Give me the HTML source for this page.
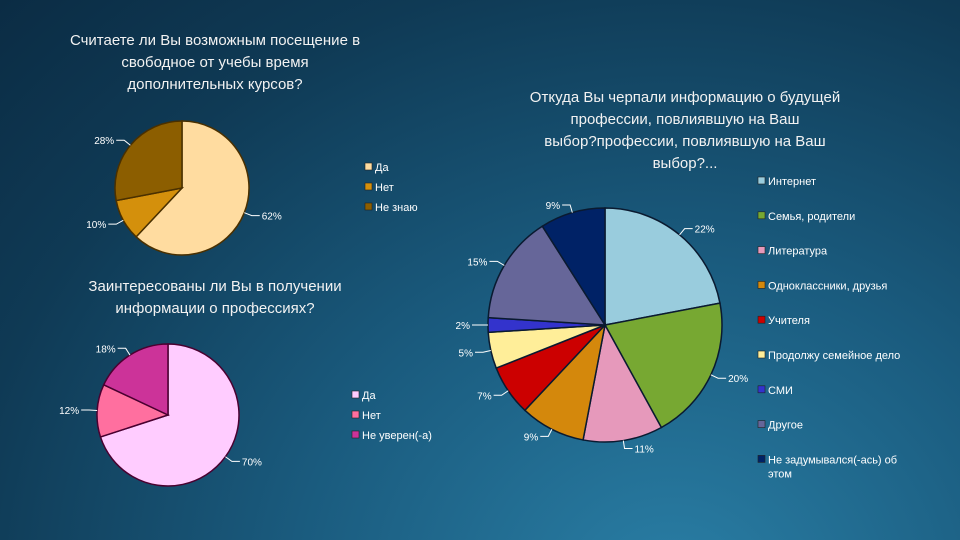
<!DOCTYPE html>
<html><head><meta charset="utf-8">
<style>
html,body{margin:0;padding:0;}
body{width:960px;height:540px;overflow:hidden;background:radial-gradient(ellipse at 70% 110%,#2a7fa6 0%,#1a5b7e 40%,#0f3a55 75%,#0b2c44 100%);font-family:"Liberation Sans","Noto Sans CJK SC",sans-serif;color:#fff;position:relative;}
.t{position:absolute;text-align:center;font-size:15px;line-height:22px;color:#f2f2f2;white-space:nowrap;}
</style></head>
<body>
<div class="t" style="left:15px;top:30px;width:400px;">Считаете ли Вы возможным посещение в<br>свободное от учебы время<br>дополнительных курсов?</div>
<div class="t" style="left:15px;top:276px;width:400px;">Заинтересованы ли Вы в получении<br>информации о профессиях?</div>
<div class="t" style="left:485px;top:87px;width:400px;">Откуда Вы черпали информацию о будущей<br>профессии, повлиявшую на Ваш<br>выбор?профессии, повлиявшую на Ваш<br>выбор?...</div>
<svg id="svg" width="960" height="540" style="position:absolute;left:0;top:0"></svg>
<script>
const c1Labels=["Да","Нет","Не знаю"];
const c1Values=[62,10,28];
const c1Colors=["#FFDCA0","#D4900C","#8C5E00"];
const c2Labels=["Да","Нет","Не уверен(-а)"];
const c2Values=[70,12,18];
const c2Colors=["#FFCCFF","#FF6F9F","#CC3399"];
const c3Labels=["Интернет","Семья, родители","Литература","Одноклассники, друзья","Учителя","Продолжу семейное дело","СМИ","Другое","Не задумывался(-ась) об|этом"];
const c3Values=[22,20,11,9,7,5,2,15,9];
const c3Colors=["#99CCDD","#77A832","#E699BB","#D4880C","#CC0000","#FFEE99","#3333CC","#666699","#002266"];
const NS="http://www.w3.org/2000/svg";
const svg=document.getElementById('svg');
function mk(t,a){const e=document.createElementNS(NS,t);for(const k in a)e.setAttribute(k,a[k]);svg.appendChild(e);return e;}
function pie(id,vals,cols,cx,cy,r,stroke){
  const tot=vals.reduce((a,b)=>a+b,0);let a0=-Math.PI/2;
  vals.forEach((v,i)=>{
    const a1=a0+v/tot*2*Math.PI;
    const x0=cx+r*Math.cos(a0),y0=cy+r*Math.sin(a0),x1=cx+r*Math.cos(a1),y1=cy+r*Math.sin(a1);
    const p=mk('path',{d:`M${cx},${cy}L${x0},${y0}A${r},${r} 0 ${a1-a0>Math.PI?1:0} 1 ${x1},${y1}Z`,fill:cols[i],stroke:stroke,'stroke-width':1.5});
    
    
    const am=(a0+a1)/2,ca=Math.cos(am),sa=Math.sin(am);
    const ax=cx+r*ca,ay=cy+r*sa,bx=cx+(r+8)*ca,by=cy+(r+8)*sa,ex=bx+(ca>=0?8:-8);
    const l=mk('polyline',{points:`${ax},${ay} ${bx},${by} ${ex},${by}`,fill:'none',stroke:'#fff','stroke-width':1});
    
    
    const t=mk('text',{x:ex+(ca>=0?2:-2),y:by+4,'font-size':10,fill:'#fff','text-anchor':ca>=0?'start':'end','font-family':'Liberation Sans, sans-serif'});
    t.textContent=v+'%';
    
    
    a0=a1;
  });
}
function legend(id,labels,cols,x,y,dy){
  labels.forEach((s,i)=>{
    const r=mk('rect',{x:x,y:y+i*dy-8,width:7,height:7,fill:cols[i],stroke:'#222','stroke-width':0.6});
    
    
    const parts=s.split('|');
    parts.forEach((ps,j)=>{
      const t=mk('text',{x:x+10,y:y+i*dy+j*14,'font-size':11,fill:'#fff','font-family':'Liberation Sans, sans-serif'});
      t.textContent=ps;
      
      
    });
  });
}
pie('chart1',c1Values,c1Colors,182,188,67,'#4a3000');
legend('chart1',c1Labels,c1Colors,365,171,20);
pie('chart2',c2Values,c2Colors,168,415,71,'#4a0030');
legend('chart2',c2Labels,c2Colors,352,399,20);
pie('chart3',c3Values,c3Colors,605,325,117,'#0a1a30');
legend('chart3',c3Labels,c3Colors,758,185,34.8);
</script>
</body></html>
